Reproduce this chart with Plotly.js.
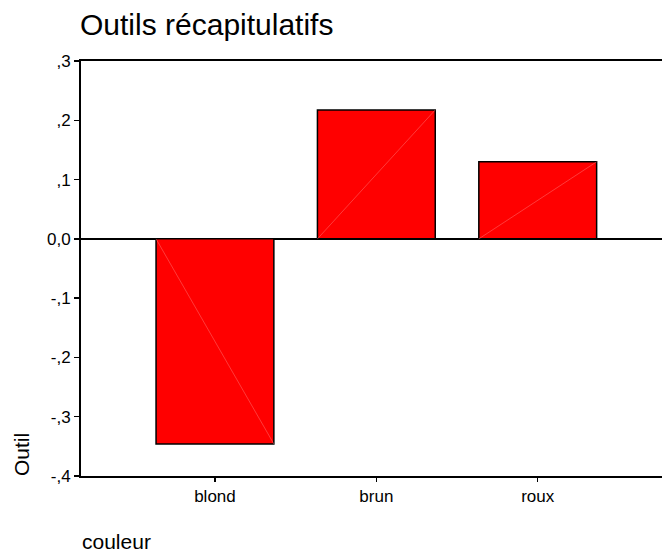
<!DOCTYPE html>
<html>
<head>
<meta charset="utf-8">
<script src="https://cdn.plot.ly/plotly-3.0.1.min.js"></script>
<style>html,body{margin:0;padding:0;background:#fff;}#chart{width:662px;height:554px;}</style>
</head>
<body>
<div id="chart"></div>
<script>
const categories = ["blond", "brun", "roux"];
const values = [-0.346, 0.2175, 0.130];
const yTickVals = [-0.4, -0.3, -0.2, -0.1, 0, 0.1, 0.2, 0.3];
const yTickText = ["-,4", "-,3", "-,2", "-,1", "0,0", ",1", ",2", ",3"];

const positions = categories.map((c, i) => i);
const barWidth = 0.73;

// faint diagonal inside each bar (from base-left corner to value-right corner)
const diagX = [], diagY = [];
positions.forEach((p, i) => {
  diagX.push(p - barWidth / 2, p + barWidth / 2, null);
  diagY.push(0, values[i], null);
});

const font = "Liberation Sans, Arial, sans-serif";

const data = [
  {
    type: "bar",
    x: positions,
    y: values,
    width: barWidth,
    marker: { color: "#ff0000", line: { color: "#000000", width: 1.5 } },
    hoverinfo: "skip"
  },
  {
    type: "scatter",
    mode: "lines",
    x: diagX,
    y: diagY,
    line: { color: "rgba(255,140,140,0.7)", width: 0.6 },
    hoverinfo: "skip",
    connectgaps: false
  }
];

const layout = {
  width: 662,
  height: 554,
  margin: { l: 81, r: 0, t: 61, b: 78 },
  paper_bgcolor: "#ffffff",
  plot_bgcolor: "#ffffff",
  showlegend: false,
  font: { family: font, color: "#000000", size: 17 },
  title: {
    text: "Outils récapitulatifs",
    font: { family: font, size: 30, color: "#000000" },
    xref: "container", yref: "container",
    x: 80 / 662, xanchor: "left",
    y: 1 - 24 / 554, yanchor: "middle"
  },
  xaxis: {
    range: [-0.83, 2.77],
    tickvals: positions,
    ticktext: categories,
    ticks: "outside",
    ticklen: 4,
    tickwidth: 1.5,
    tickcolor: "#000",
    showline: true,
    linecolor: "#000",
    linewidth: 2,
    mirror: true,
    showgrid: false,
    zeroline: false,
    tickfont: { family: font, size: 17, color: "#000" },
    fixedrange: true
  },
  yaxis: {
    range: [-0.4, 0.3],
    tickvals: yTickVals,
    ticktext: yTickText,
    ticks: "outside",
    ticklen: 5,
    tickwidth: 1.5,
    tickcolor: "#000",
    showline: true,
    linecolor: "#000",
    linewidth: 2,
    showgrid: false,
    zeroline: true,
    zerolinecolor: "#000",
    zerolinewidth: 1.5,
    tickfont: { family: font, size: 17, color: "#000" },
    fixedrange: true
  },
  annotations: [
    {
      text: "Outil",
      xref: "paper", yref: "paper",
      x: (21 - 81) / 581, y: (476 - 455) / 415,
      xanchor: "center", yanchor: "middle",
      textangle: -90,
      showarrow: false,
      font: { family: font, size: 21, color: "#000" }
    },
    {
      text: "couleur",
      xref: "paper", yref: "paper",
      x: (80 - 81) / 581, y: (476 - 541) / 415,
      xanchor: "left", yanchor: "middle",
      showarrow: false,
      font: { family: font, size: 21, color: "#000" }
    }
  ]
};

Plotly.newPlot("chart", data, layout, { staticPlot: true, displayModeBar: false });
</script>
</body>
</html>
